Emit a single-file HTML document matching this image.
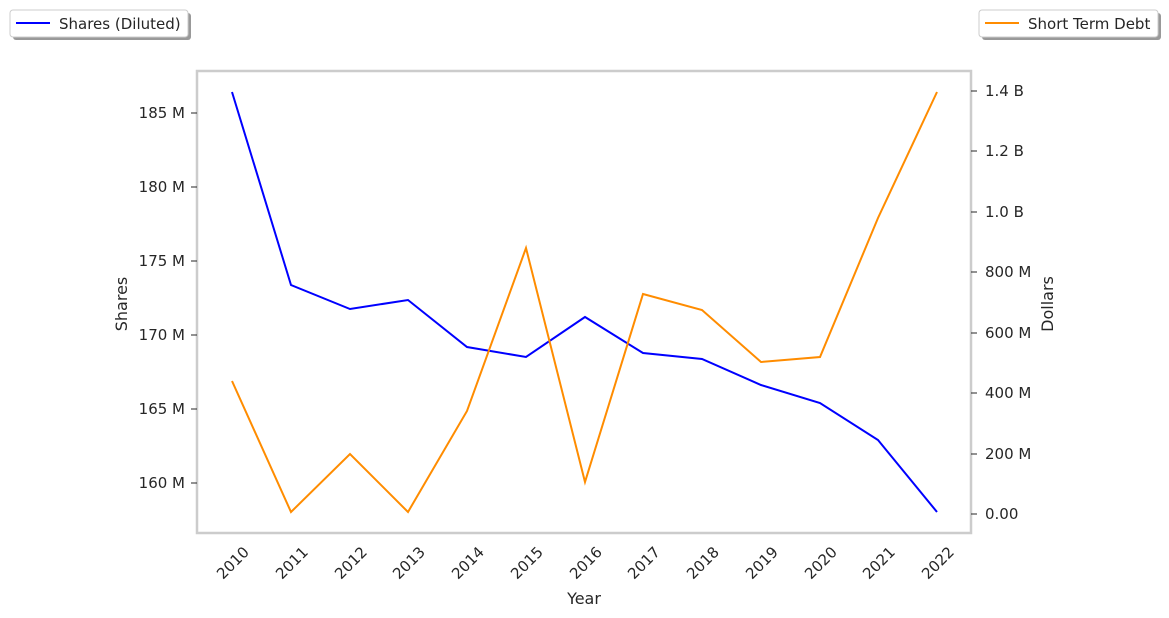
<!DOCTYPE html>
<html><head><style>body{margin:0;background:#fff}svg{display:block}text{font-family:"DejaVu Sans","Liberation Sans",sans-serif;fill:#262626}</style></head><body>
<svg width="1169" height="618" viewBox="0 0 1169 618">
<rect x="197" y="71" width="774" height="462" fill="#fff" stroke="#ccc" stroke-width="2.5"/>
<g font-size="15" text-anchor="end">
<line x1="191" x2="197" y1="113" y2="113" stroke="#262626"/><text x="185" y="118">185 M</text>
<line x1="191" x2="197" y1="187" y2="187" stroke="#262626"/><text x="185" y="192">180 M</text>
<line x1="191" x2="197" y1="261" y2="261" stroke="#262626"/><text x="185" y="266">175 M</text>
<line x1="191" x2="197" y1="335" y2="335" stroke="#262626"/><text x="185" y="340">170 M</text>
<line x1="191" x2="197" y1="409" y2="409" stroke="#262626"/><text x="185" y="414">165 M</text>
<line x1="191" x2="197" y1="483" y2="483" stroke="#262626"/><text x="185" y="488">160 M</text>
</g>
<g font-size="15">
<line x1="971" x2="977" y1="91" y2="91" stroke="#262626"/><text x="985" y="96">1.4 B</text>
<line x1="971" x2="977" y1="151" y2="151" stroke="#262626"/><text x="985" y="156">1.2 B</text>
<line x1="971" x2="977" y1="212" y2="212" stroke="#262626"/><text x="985" y="217">1.0 B</text>
<line x1="971" x2="977" y1="272" y2="272" stroke="#262626"/><text x="985" y="277">800 M</text>
<line x1="971" x2="977" y1="333" y2="333" stroke="#262626"/><text x="985" y="338">600 M</text>
<line x1="971" x2="977" y1="393" y2="393" stroke="#262626"/><text x="985" y="398">400 M</text>
<line x1="971" x2="977" y1="454" y2="454" stroke="#262626"/><text x="985" y="459">200 M</text>
<line x1="971" x2="977" y1="514" y2="514" stroke="#262626"/><text x="985" y="519">0.00</text>
</g>
<g font-size="15" text-anchor="end">
<text transform="translate(250,553) rotate(-45)">2010</text>
<text transform="translate(309,553) rotate(-45)">2011</text>
<text transform="translate(368,553) rotate(-45)">2012</text>
<text transform="translate(426,553) rotate(-45)">2013</text>
<text transform="translate(485,553) rotate(-45)">2014</text>
<text transform="translate(544,553) rotate(-45)">2015</text>
<text transform="translate(603,553) rotate(-45)">2016</text>
<text transform="translate(661,553) rotate(-45)">2017</text>
<text transform="translate(720,553) rotate(-45)">2018</text>
<text transform="translate(779,553) rotate(-45)">2019</text>
<text transform="translate(838,553) rotate(-45)">2020</text>
<text transform="translate(896,553) rotate(-45)">2021</text>
<text transform="translate(955,553) rotate(-45)">2022</text>
</g>
<text x="584" y="604" font-size="16" text-anchor="middle">Year</text>
<text transform="translate(127,304) rotate(-90)" font-size="16" text-anchor="middle">Shares</text>
<text transform="translate(1053,304) rotate(-90)" font-size="16" text-anchor="middle">Dollars</text>
<polyline fill="none" stroke="#0000ff" stroke-width="2" points="232,92 291,285 350,309 408,300 467,347 526,357 585,317 643,353 702,359 761,385 820,403 878,440 937,512"/>
<polyline fill="none" stroke="#ff8c00" stroke-width="2" points="232,381 291,512 350,454 408,512 467,411 526,248 585,482 643,294 702,310 761,362 820,357 878,218 937,92"/>
<rect x="13" y="13" width="178" height="27" rx="3" fill="#999"/>
<rect x="10" y="10" width="178" height="27" rx="3" fill="#fff" stroke="#ccc"/>
<line x1="16" x2="50" y1="23" y2="23" stroke="#0000ff" stroke-width="2"/>
<text x="59" y="29" font-size="15">Shares (Diluted)</text>
<rect x="982" y="13" width="179" height="27" rx="3" fill="#999"/>
<rect x="979" y="10" width="179" height="27" rx="3" fill="#fff" stroke="#ccc"/>
<line x1="985" x2="1019" y1="23" y2="23" stroke="#ff8c00" stroke-width="2"/>
<text x="1028" y="29" font-size="15">Short Term Debt</text>
</svg>
</body></html>
